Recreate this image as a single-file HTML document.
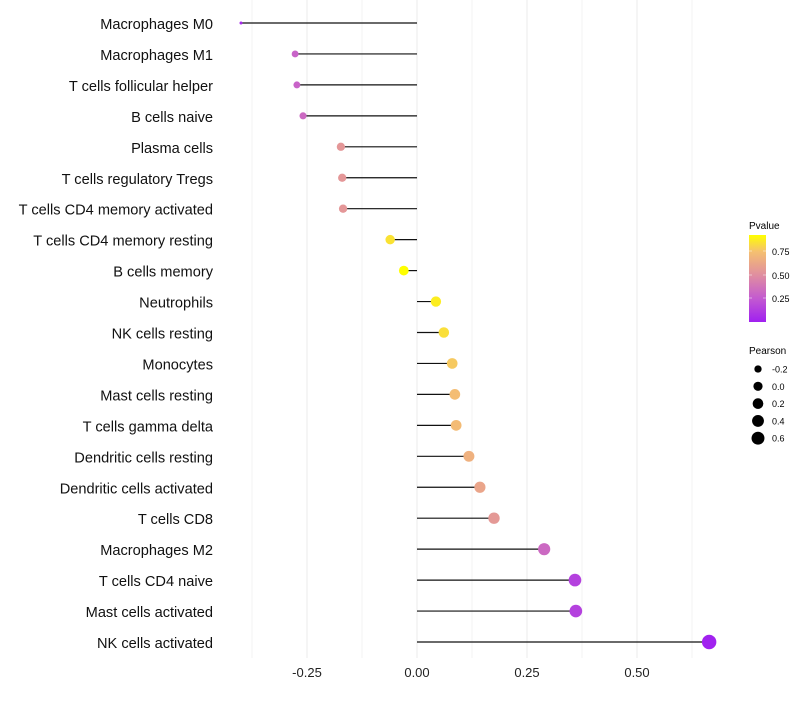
<!DOCTYPE html>
<html><head><meta charset="utf-8"><style>
body{margin:0;background:#fff;}
svg text{font-family:"Liberation Sans",sans-serif;}
</style></head><body>
<svg id="chart" width="800" height="700" viewBox="0 0 800 700">
<defs><linearGradient id="pg" x1="0" y1="1" x2="0" y2="0">
<stop offset="0" stop-color="#a020f0"/><stop offset="0.27" stop-color="#c35ad0"/><stop offset="0.54" stop-color="#e08ea0"/><stop offset="0.81" stop-color="#f5c070"/><stop offset="1" stop-color="#ffff00"/></linearGradient></defs>
<g id="grid"></g>
<g id="marks"></g>
<g id="ylab"></g>
<g id="xlab"></g>
<g>
<text x="749" y="229" font-size="10">Pvalue</text>
<rect x="749" y="235" width="17" height="87" fill="url(#pg)"/>
<g stroke="#fff" stroke-width="0.6" opacity="0.8"><line x1="749" y1="251" x2="752" y2="251"/><line x1="763" y1="251" x2="766" y2="251"/><line x1="749" y1="275" x2="752" y2="275"/><line x1="763" y1="275" x2="766" y2="275"/><line x1="749" y1="298" x2="752" y2="298"/><line x1="763" y1="298" x2="766" y2="298"/></g>
<text x="772" y="255" font-size="9">0.75</text><text x="772" y="279" font-size="9">0.50</text><text x="772" y="302" font-size="9">0.25</text>
</g>
<g id="sizeleg">
<text x="749" y="354" font-size="10">Pearson</text>
</g>
</svg>
<script>
const categories=["Macrophages M0","Macrophages M1","T cells follicular helper","B cells naive","Plasma cells","T cells regulatory  Tregs ","T cells CD4 memory activated","T cells CD4 memory resting","B cells memory","Neutrophils","NK cells resting","Monocytes","Mast cells resting","T cells gamma delta","Dendritic cells resting","Dendritic cells activated","T cells CD8","Macrophages M2","T cells CD4 naive","Mast cells activated","NK cells activated"];
const pearson=[-0.40,-0.277,-0.273,-0.259,-0.173,-0.170,-0.168,-0.061,-0.030,0.043,0.061,0.080,0.086,0.089,0.118,0.143,0.175,0.289,0.359,0.361,0.664];
const pvalue=[0.05,0.30,0.30,0.33,0.55,0.55,0.55,0.85,0.93,0.88,0.84,0.78,0.74,0.73,0.68,0.62,0.56,0.33,0.15,0.15,0.02];
const xTicks=[-0.25,0,0.25,0.5];
const xTickLabels=["-0.25","0.00","0.25","0.50"];
const sizeLegendVals=[-0.2,0,0.2,0.4,0.6];
const sizeLegendLabels=["-0.2","0.0","0.2","0.4","0.6"];
const NS="http://www.w3.org/2000/svg";
const x=v=>417+v*440;
const y=i=>23+i*30.95;
const vmin=Math.min(...pearson),vmax=Math.max(...pearson);
const r=v=>{const t=Math.min(1,Math.max(0,(v-vmin)/(vmax-vmin)));return 1.5+5.7*Math.sqrt(t);};
const stops=[[0,[160,32,240]],[0.27,[195,90,208]],[0.54,[224,142,160]],[0.81,[245,192,112]],[1,[255,255,0]]];
function col(p){const t=Math.min(1,Math.max(0,(p-0.01)/0.92));for(let k=1;k<stops.length;k++){if(t<=stops[k][0]){const a=stops[k-1],b=stops[k],f=(t-a[0])/(b[0]-a[0]);return "rgb("+a[1].map((c,j)=>Math.round(c+(b[1][j]-c)*f)).join(",")+")";}}return "rgb(255,255,0)";}
function mk(tag,attrs,parent){const e=document.createElementNS(NS,tag);for(const k in attrs)e.setAttribute(k,attrs[k]);parent.appendChild(e);return e;}
const grid=document.getElementById('grid');
for(let v=-0.375;v<=0.65;v+=0.125){
const g=mk('line',{x1:x(v),x2:x(v),y1:0,y2:658,stroke:'#ebebeb','stroke-width':Math.abs(v*4-Math.round(v*4))<1e-6?1:0.6},grid);


}
const xl=document.getElementById('xlab');
xTicks.forEach((v,i)=>{const t=mk('text',{x:x(v),y:677,'font-size':13,'text-anchor':'middle',fill:'#222'},xl);t.textContent=xTickLabels[i];

});
const marks=document.getElementById('marks'),yl=document.getElementById('ylab');
categories.forEach((c,i)=>{
const ln=mk('line',{x1:x(0),x2:x(pearson[i]),y1:y(i),y2:y(i),stroke:'#111','stroke-width':1.2},marks);


const pt=mk('circle',{cx:x(pearson[i]),cy:y(i),r:r(pearson[i]),fill:col(pvalue[i])},marks);


const t=mk('text',{x:213,y:y(i)+6,'font-size':14.6,'text-anchor':'end',fill:'#111','xml:space':'preserve'},yl);t.textContent=c;


});
const sl=document.getElementById('sizeleg');
sizeLegendVals.forEach((v,i)=>{const cy=369+i*17.3;
const c=mk('circle',{cx:758,cy:cy,r:r(v)*0.92,fill:'#000'},sl);


const t=mk('text',{x:772,y:cy+3.5,'font-size':9},sl);t.textContent=sizeLegendLabels[i];

});
</script>
</body></html>
